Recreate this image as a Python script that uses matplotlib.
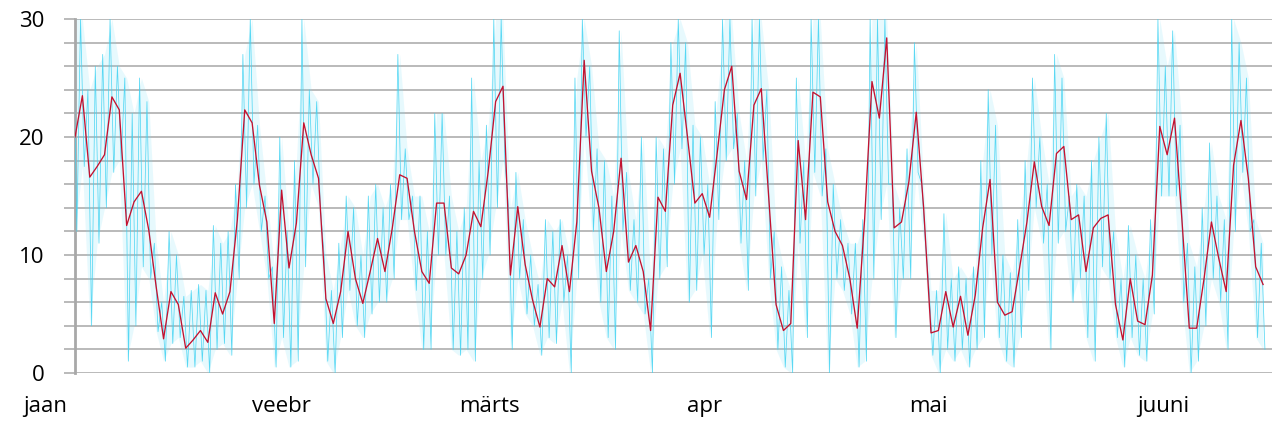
import matplotlib.pyplot as plt
import matplotlib.transforms as mtransforms
import numpy as np

# paeva keskmine (punane joon), alates 8. jaanuarist
daily_avg = [20.0, 23.5, 16.6, 17.5, 18.5, 23.4, 22.3, 12.5, 14.5, 15.4,
             12.1, 7.3, 2.9, 6.9, 5.8, 2.1, 2.8, 3.6, 2.6, 6.8,
             5.0, 6.9, 13.0, 22.3, 21.2, 15.9, 12.8, 4.2, 15.5, 8.9,
             12.7, 21.2, 18.5, 16.5, 6.3, 4.2, 6.9, 12.0, 8.0, 5.9,
             8.6, 11.4, 8.6, 12.3, 16.8, 16.5, 12.0, 8.6, 7.6, 14.4,
             14.4, 8.9, 8.4, 10.0, 13.7, 12.4, 17.1, 23.0, 24.3, 8.3,
             14.1, 9.2, 6.2, 3.9, 8.0, 7.3, 10.8, 6.9, 12.8, 26.5,
             17.1, 14.0, 8.6, 12.0, 18.2, 9.4, 10.8, 8.6, 3.6, 14.9,
             13.7, 22.7, 25.4, 20.0, 14.4, 15.2, 13.2, 18.5, 24.0, 26.0,
             17.1, 14.7, 22.7, 24.1, 15.0, 5.8, 3.6, 4.2, 19.7, 13.0,
             23.8, 23.4, 14.5, 12.0, 10.8, 8.0, 3.8, 13.0, 24.7, 21.6,
             28.4, 12.3, 12.8, 16.2, 22.1, 14.0, 3.4, 3.6, 6.9, 3.9,
             6.5, 3.2, 6.6, 12.3, 16.4, 6.0, 4.9, 5.2, 8.9, 12.8,
             17.9, 14.1, 12.5, 18.6, 19.2, 13.0, 13.4, 8.6, 12.3, 13.1,
             13.4, 5.8, 2.8, 8.0, 4.4, 4.1, 8.3, 20.9, 18.5, 21.6,
             13.0, 3.8, 3.8, 8.0, 12.8, 9.7, 6.9, 17.6, 21.4, 16.5,
             9.0, 7.5]

# tunniandmete paeva maksimum ja miinimum (helesinine)
hourly_hi = [30, 30, 24, 26, 27, 30, 26, 25, 22, 25,
             23, 11, 6, 12, 10, 6.5, 7, 7.5, 7, 12.5,
             11, 12, 16, 27, 30, 21, 15, 9, 20, 12,
             18, 30, 24, 23, 10, 7, 11, 15, 14, 10,
             15, 16, 14, 16, 27, 19, 15, 15, 12, 22,
             22, 15, 12, 14, 25, 18, 21, 30, 30, 14,
             17, 13, 10, 7.5, 13, 12, 13, 10, 25, 30,
             26, 19, 18, 15, 29, 17, 13, 20, 8, 20,
             19, 28, 30, 28, 21, 20, 16, 23, 30, 30,
             22, 18, 30, 30, 24, 12, 9, 7, 25, 18,
             30, 30, 19, 16, 13, 11, 11, 13, 30, 30,
             30, 16, 14, 19, 28, 16, 7, 7, 13.5, 8,
             9, 8, 9, 18, 24, 21, 10, 8.5, 13, 18,
             25, 20, 16, 27, 25, 15, 16, 15, 18, 20,
             22, 12, 8, 12.5, 10, 8, 13, 30, 26, 29,
             21, 11, 9, 14, 19.5, 15, 13, 30, 28, 25,
             13, 11]
hourly_lo = [12, 17.5, 4, 11, 14, 17, 18, 1, 4, 9,
             8, 3.5, 1, 2.5, 3, 0.5, 0.5, 1, 0, 2,
             2.5, 1.5, 8, 14, 16, 12, 8, 0.5, 3, 0.5,
             1, 9, 16, 14, 1, 0, 3, 7, 4, 3,
             5, 6, 6, 8, 13, 13, 7, 2, 2, 10,
             10, 2, 1.5, 2, 1, 8, 10, 14, 18, 2,
             8, 5, 4, 1.5, 3, 2.5, 6, 0, 8, 20,
             12, 6, 3, 2, 12, 7, 6, 5, 0, 8,
             9, 16, 19, 6, 7, 10, 3, 13, 18, 19,
             11, 7, 15, 18, 8, 2, 0.5, 0, 11, 3,
             17, 15, 0, 8, 7, 5, 0.5, 1, 8, 13,
             16, 3, 8, 8, 17, 11, 1.5, 0, 2, 1,
             2, 0.5, 2, 3, 10, 3, 1, 0.5, 3, 7,
             14, 11, 2, 11, 12, 6, 8, 3, 1, 9,
             8, 3, 0.5, 3, 1.5, 1, 5, 15, 15, 15,
             6, 0, 1, 4, 8, 6, 2, 12, 17, 12,
             3, 2]

months = ["jaan", "veebr", "märts", "apr", "mai", "juuni"]
month_start = [0, 31, 59, 90, 120, 151]   # paev aasta algusest
first_day = 7

days = np.arange(len(daily_avg)) + first_day
hi = np.array(hourly_hi, dtype=float)
lo = np.array(hourly_lo, dtype=float)

# siksak: iga paeva maksimum ja miinimum
zx = np.column_stack([days - 0.25, days + 0.25]).ravel()
zy = np.column_stack([hi, lo]).ravel()

plt.rcParams['font.family'] = ['Open Sans', 'DejaVu Sans']

fig = plt.figure(figsize=(12.8, 4.29), dpi=100)
ax = fig.add_axes([0.0586, 0.1305, 0.9351, 0.8252])

ax.fill_between(days, lo, hi, color='#7ee0f7', alpha=0.18, lw=0, zorder=2)
ax.plot(zx, zy, color='#3dd2f2', lw=0.55, alpha=0.85, zorder=3)
ax.plot(days, daily_avg, color='#c41230', lw=0.95, zorder=4)

ax.set_xlim(first_day, first_day + 162.2)
ax.set_ylim(0, 30)

ax.set_yticks([0, 10, 20, 30])
ax.set_yticks(np.arange(0, 31, 2), minor=True)
ax.yaxis.grid(True, which='both', color='#b4b4b4', lw=1.3, zorder=1)
ax.set_axisbelow(True)
ax.tick_params(axis='y', which='both', length=8, width=1.3, color='#b4b4b4',
               labelsize=16, pad=14)
ax.set_xticks([])

for s in ['top', 'right', 'bottom']:
    ax.spines[s].set_visible(False)
ax.spines['left'].set_color('#a8a8a8')
ax.spines['left'].set_linewidth(2)

trans = mtransforms.blended_transform_factory(ax.transData, ax.transAxes)
for name, d in zip(months, month_start):
    ax.text(d, -0.095, name, transform=trans, ha='left', va='center',
            fontsize=16, clip_on=False)

fig.savefig('out.png', dpi=100)
